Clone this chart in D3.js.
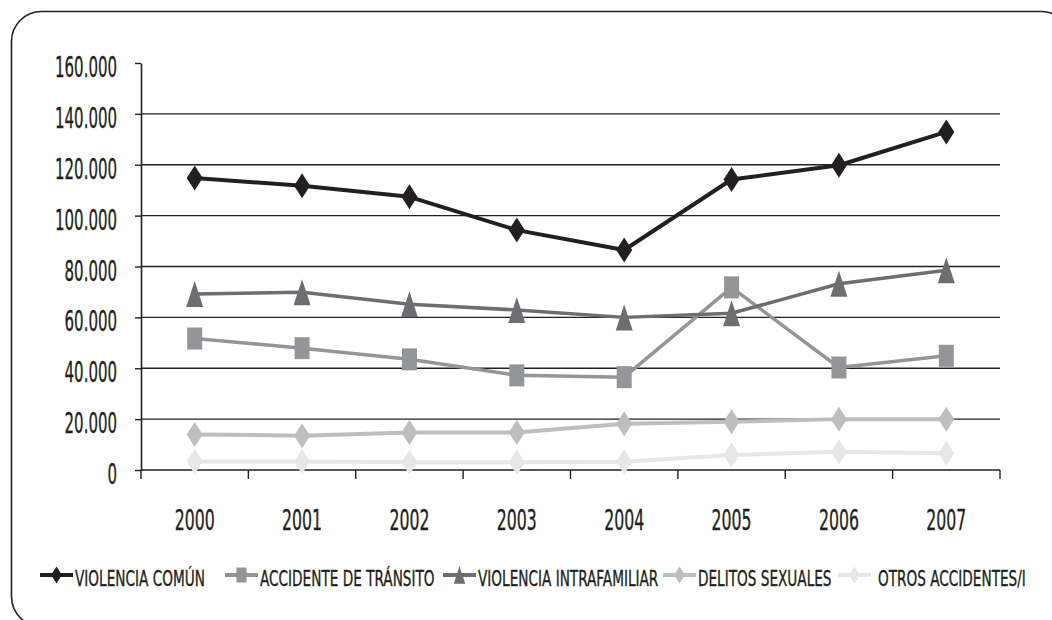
<!DOCTYPE html>
<html>
<head>
<meta charset="utf-8">
<script src="https://cdn.jsdelivr.net/npm/d3@7"></script>
<style>
  body { margin: 0; background: #fff; }
  svg { display: block; }
  text { font-family: "Liberation Sans Narrow", "Arial Narrow", "DejaVu Sans Condensed", sans-serif; fill: #231f20; stroke: #231f20; stroke-width: 0.35px; }
</style>
</head>
<body>
<svg id="chart" width="1052" height="620"></svg>
<script>
// Categories and series values (cases per year)
const years = ["2000", "2001", "2002", "2003", "2004", "2005", "2006", "2007"];
const violenciaComun         = [114800, 111700, 107400, 94300, 86500, 114200, 119800, 132900];
const accidenteTransito      = [51700, 47900, 43500, 37200, 36500, 71800, 40300, 44900];
const violenciaIntrafamiliar = [69200, 69900, 65200, 62900, 60000, 61600, 73200, 78500];
const delitosSexuales        = [14000, 13500, 14700, 14700, 18200, 19000, 20000, 20000];
const otrosAccidentes        = [3300, 3300, 3000, 3000, 3200, 5900, 7200, 6600];
const seriesNames = ["VIOLENCIA COMÚN", "ACCIDENTE DE TRÁNSITO", "VIOLENCIA INTRAFAMILIAR", "DELITOS SEXUALES", "OTROS ACCIDENTES/I"];
const yTicks = [0, 20000, 40000, 60000, 80000, 100000, 120000, 140000, 160000];

// Styling per series
const styles = [
  { color: "#231f20", marker: "diamond",  width: 4 },
  { color: "#939598", marker: "square",   width: 3.5 },
  { color: "#6d6e71", marker: "triangle", width: 3.5 },
  { color: "#bcbec0", marker: "diamond",  width: 4 },
  { color: "#e6e7e8", marker: "diamond",  width: 4 }
];
const seriesValues = [violenciaComun, accidenteTransito, violenciaIntrafamiliar, delitosSexuales, otrosAccidentes];
const series = seriesNames.map((name, i) => ({
  name, values: seriesValues[i].map((v, j) => ({ year: years[j], value: v })), ...styles[i]
}));

const svg = d3.select("#chart");
const ink = "#231f20";

// Rounded frame around the whole chart
svg.append("rect")
  .attr("x", 11.5).attr("y", 11.5)
  .attr("width", 1060).attr("height", 615)
  .attr("rx", 30).attr("ry", 30)
  .attr("fill", "none").attr("stroke", ink).attr("stroke-width", 1.6);

const x = d3.scaleBand().domain(years).range([141, 1000]);
const y = d3.scaleLinear().domain([0, 160000]).range([470, 63]);

const locale = d3.formatLocale({ decimal: ",", thousands: ".", grouping: [3], currency: ["", ""] });
const fmt = locale.format(",");

// Horizontal condensing so the sans font resembles the narrow humanist face
function condense(sample, size, target) {
  const t = svg.append("text").attr("font-size", size).text(sample);
  const w = t.node().getComputedTextLength();
  t.remove();
  return w > 0 ? target / w : 1;
}
function placeText(sel, px, py, k) {
  sel.attr("x", 0).attr("y", 0)
     .attr("transform", (d, i) => `translate(${px(d, i)},${py(d, i)}) scale(${k},1)`);
}

// Gridlines (no line at the top value)
svg.append("g")
  .selectAll("line")
  .data(yTicks.filter(v => v > 0 && v < 160000))
  .join("line")
  .attr("x1", x.range()[0]).attr("x2", x.range()[1])
  .attr("y1", d => y(d)).attr("y2", d => y(d))
  .attr("stroke", ink).attr("stroke-width", 1.4);

// Y axis
const yAxis = svg.append("g")
  .attr("transform", `translate(${x.range()[0]},0)`)
  .call(d3.axisLeft(y).tickValues(yTicks).tickFormat(fmt).tickSize(6).tickSizeOuter(0));
yAxis.select(".domain").attr("stroke", ink).attr("stroke-width", 1.6);
yAxis.selectAll(".tick line").attr("stroke", ink).attr("stroke-width", 1.4);
yAxis.selectAll(".tick text").remove();

const kY = condense("160.000", 28, 62);
svg.append("g").selectAll("text")
  .data(yTicks).join("text")
  .attr("font-size", 28).attr("text-anchor", "end")
  .text(d => fmt(d))
  .call(placeText, () => 117, d => y(d) + 14, kY);

// X axis line with ticks at category boundaries
const xBase = y(0);
svg.append("line")
  .attr("x1", x.range()[0]).attr("x2", x.range()[1])
  .attr("y1", xBase).attr("y2", xBase)
  .attr("stroke", ink).attr("stroke-width", 1.6);
const boundaries = years.map(d => x(d)).concat([x.range()[1]]);
svg.append("g").selectAll("line")
  .data(boundaries).join("line")
  .attr("x1", d => d).attr("x2", d => d)
  .attr("y1", xBase).attr("y2", xBase + 9)
  .attr("stroke", ink).attr("stroke-width", 1.4);

const kX = condense("2000", 28, 40);
svg.append("g").selectAll("text")
  .data(years).join("text")
  .attr("font-size", 28).attr("text-anchor", "middle")
  .text(d => d)
  .call(placeText, d => x(d) + x.bandwidth() / 2, () => 530, kX);

// Marker shapes
function markerPath(type, s) {
  if (type === "diamond") return `M0,${-12.5 * s}L${8 * s},0L0,${12.5 * s}L${-8 * s},0Z`;
  if (type === "square") return `M${-7.5 * s},${-11 * s}H${7.5 * s}V${11 * s}H${-7.5 * s}Z`;
  return `M0,${-13 * s}L${8.5 * s},${13 * s}L${-8.5 * s},${13 * s}Z`;
}

const line = d3.line()
  .x(d => x(d.year) + x.bandwidth() / 2)
  .y(d => y(d.value));

const gSeries = svg.append("g").selectAll("g")
  .data(series).join("g");

gSeries.append("path")
  .attr("d", d => line(d.values))
  .attr("fill", "none")
  .attr("stroke", d => d.color)
  .attr("stroke-width", d => d.width)
  .attr("stroke-linejoin", "round");

gSeries.each(function (s) {
  d3.select(this).selectAll("path.marker")
    .data(s.values).join("path")
    .attr("class", "marker")
    .attr("d", markerPath(s.marker, 1))
    .attr("transform", d => `translate(${x(d.year) + x.bandwidth() / 2},${y(d.value)})`)
    .attr("fill", s.color);
});

// Legend
const legendX = [40, 225, 443, 663, 838];
const legendLineY = 575;
const kL = condense("VIOLENCIA COMÚN", 22, 130);
const leg = svg.append("g").selectAll("g")
  .data(series).join("g")
  .attr("transform", (d, i) => `translate(${legendX[i]},0)`);
leg.append("line")
  .attr("x1", 0).attr("x2", 33)
  .attr("y1", legendLineY).attr("y2", legendLineY)
  .attr("stroke", d => d.color).attr("stroke-width", 4);
leg.append("path")
  .attr("d", d => markerPath(d.marker, 0.68))
  .attr("transform", `translate(16.5,${legendLineY})`)
  .attr("fill", d => d.color);
leg.append("text")
  .attr("font-size", 22)
  .text(d => d.name)
  .call(placeText, (d, i) => i === 4 ? 40 : 35, () => 586, kL);
</script>
</body>
</html>
